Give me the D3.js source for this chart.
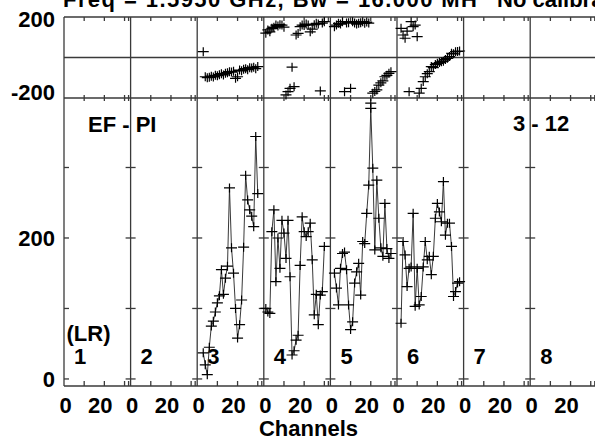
<!DOCTYPE html>
<html>
<head>
<meta charset="utf-8">
<script src="https://cdn.jsdelivr.net/npm/d3@7"></script>
<style>
  html, body { margin: 0; padding: 0; background: #fff; }
  svg { display: block; }
  text { font-family: 'Liberation Sans', Arial, sans-serif; font-weight: bold; fill: #000; }
</style>
</head>
<body>
<div id="chart"></div>
<script>
// panel labels (baselines 1..8)
const panelLabels = ['1', '2', '3', '4', '5', '6', '7', '8'];
const xTickLabels = [0, 20];
const xMinorTicks = [10, 20, 30, 32];
const ampTicks = [0, 100, 200, 300];
const ampTickLabels = [0, 200];
const phaseTickLabels = [200, -200];

// first channel with data, per panel index (0-based)
const firstChan = { 2: 3, 3: 1, 4: 2, 5: 2 };

// amplitude per channel
const amp3 = [37, 20, 6, 45, 75, 82, 95, 108, 118, 155, 120, 143, 160, 271, 186, 150, 100, 58, 77, 112, 187, 289, 254, 240, 231, 216, 344, 263];
const amp4 = [100, 95, 93, 209, 240, 138, 200, 157, 225, 207, 171, 225, 145, 34, 40, 55, 62, 161, 230, 209, 202, 209, 221, 169, 91, 120, 77, 119, 124, 188];
const amp5 = [150, 129, 105, 157, 178, 180, 155, 105, 70, 81, 136, 152, 164, 119, 195, 192, 235, 275, 384, 299, 183, 282, 228, 186, 174, 249, 185, 171, 178];
const amp6 = [79, 195, 176, 131, 157, 159, 235, 103, 157, 105, 117, 159, 195, 169, 174, 148, 174, 228, 249, 237, 223, 280, 204, 221, 221, 188, 117, 124, 136, 138];

// phase per channel (degrees)
const phs3 = [29, -95, -100, -98, -92, -96, -88, -90, -85, -80, -86, -78, -75, -70, -72, -68, -103, -95, -62, -66, -58, -55, -60, -50, -52, -48, -55, -45];
const phs4 = [120, 136, 127, 144, 150, 160, 155, 162, 160, 150, -185, -169, -152, -48, -144, 111, 119, 152, 160, 158, 165, 160, 127, 140, 162, 169, 165, -165, 170, 177];
const phs5 = [152, 160, 169, 165, 177, -169, 170, 172, -152, 177, 170, 165, 169, 172, 177, 169, 175, 170, -225, -176, -168, -160, -136, -125, -115, -95, -88, -78, -70];
const phs6 = [144, 111, 95, 130, -169, 177, 152, 160, 103, -176, -152, -119, -95, -80, -70, -45, -50, -35, -29, -25, -21, -18, -10, -4, 5, 21, 18, 29, 30, 32];

const ampData = { 2: amp3, 3: amp4, 4: amp5, 5: amp6 };
const phsData = { 2: phs3, 3: phs4, 4: phs5, 5: phs6 };

const W = 595, H = 440;
const left = 64, panelW = 66.6;
const ink = '#3a3a3a';

const svg = d3.select('#chart').append('svg')
  .attr('width', W).attr('height', H);

const yPhase = d3.scaleLinear().domain([-200, 200]).range([98, 17]);
const yAmp = d3.scaleLinear().domain([-10, 398.6]).range([386, 98]);
const xPanel = (i) => d3.scaleLinear().domain([0, 33]).range([left + i * panelW, left + (i + 1) * panelW]);
const right = left + panelLabels.length * panelW;

const frame = svg.append('g').attr('stroke', ink).attr('stroke-width', 1.3).attr('fill', 'none');

// horizontal frame lines
[yPhase(200), yPhase(0), yPhase(-200), yAmp(-10)].forEach((y) => {
  frame.append('line').attr('x1', left).attr('x2', right).attr('y1', y).attr('y2', y);
});

panelLabels.forEach((lab, i) => {
  const x = xPanel(i);
  const bx = x(0);
  // panel boundary
  frame.append('line').attr('x1', bx).attr('x2', bx).attr('y1', yPhase(200)).attr('y2', yAmp(-10));
  // amplitude ticks on boundary
  ampTicks.forEach((t) => {
    frame.append('line')
      .attr('x1', i === 0 ? bx : bx - 5).attr('x2', bx + 5)
      .attr('y1', yAmp(t)).attr('y2', yAmp(t));
  });
  // channel ticks
  xMinorTicks.forEach((c) => {
    const cx = x(c);
    frame.append('line').attr('x1', cx).attr('x2', cx).attr('y1', yPhase(200)).attr('y2', yPhase(200) + 4);
    frame.append('line').attr('x1', cx).attr('x2', cx).attr('y1', yPhase(-200) - 3).attr('y2', yPhase(-200) + 3);
    frame.append('line').attr('x1', cx).attr('x2', cx).attr('y1', yAmp(-10) - 5).attr('y2', yAmp(-10));
  });
  // channel tick labels
  xTickLabels.forEach((c) => {
    svg.append('text')
      .attr('x', x(c) + (c === 0 ? 1.5 : -4))
      .attr('y', 413)
      .attr('text-anchor', 'middle')
      .attr('font-size', 22)
      .text(c);
  });
  // panel number
  svg.append('text')
    .attr('x', bx + 10).attr('y', 364)
    .attr('font-size', 22)
    .text(lab);
});
frame.append('line').attr('x1', right).attr('x2', right).attr('y1', yPhase(200)).attr('y2', yAmp(-10));

// y labels
phaseTickLabels.forEach((t) => {
  svg.append('text')
    .attr('x', 55).attr('y', t > 0 ? 27 : 100)
    .attr('text-anchor', 'end').attr('font-size', 22)
    .text(t);
});
ampTickLabels.forEach((t) => {
  svg.append('text')
    .attr('x', 55).attr('y', yAmp(t) + 8.5)
    .attr('text-anchor', 'end').attr('font-size', 22)
    .text(t);
});

// data
const cross = (x, y) => `M${x - 5.5},${y}h11M${x},${y - 4.5}v9`;

Object.keys(ampData).forEach((k) => {
  const i = +k;
  const x = xPanel(i);
  const c0 = firstChan[i];
  const amp = ampData[i].map((v, j) => ({ c: c0 + j, v }));
  const phs = phsData[i].map((v, j) => ({ c: c0 + j, v }));

  svg.append('path')
    .attr('d', d3.line().x((d) => x(d.c)).y((d) => yAmp(d.v))(amp))
    .attr('fill', 'none').attr('stroke', '#222').attr('stroke-width', 0.9);

  svg.append('path')
    .attr('d', amp.map((d) => cross(x(d.c), yAmp(d.v))).join(''))
    .attr('fill', 'none').attr('stroke', '#000').attr('stroke-width', 1.2);

  svg.append('path')
    .attr('d', phs.map((d) => cross(x(d.c), yPhase(d.v))).join(''))
    .attr('fill', 'none').attr('stroke', '#000').attr('stroke-width', 1.2);
});

// annotations
svg.append('text').attr('x', 88).attr('y', 131.5).attr('font-size', 22).text('EF - PI');
svg.append('text').attr('x', 513).attr('y', 130.5).attr('font-size', 22).text('3 - 12');
svg.append('text').attr('x', 66.5).attr('y', 341).attr('font-size', 22).text('(LR)');
svg.append('text').attr('x', 308.5).attr('y', 436).attr('text-anchor', 'middle').attr('font-size', 22).text('Channels');

// title (clipped at top of the page)
svg.append('text').attr('x', 63).attr('y', 7).attr('font-size', 22)
  .attr('textLength', 414).attr('lengthAdjust', 'spacing')
  .text('Freq = 1.5950 GHz, Bw = 16.000 MH');
svg.append('text').attr('x', 497).attr('y', 7).attr('font-size', 22).text('No calibra');
</script>
</body>
</html>
